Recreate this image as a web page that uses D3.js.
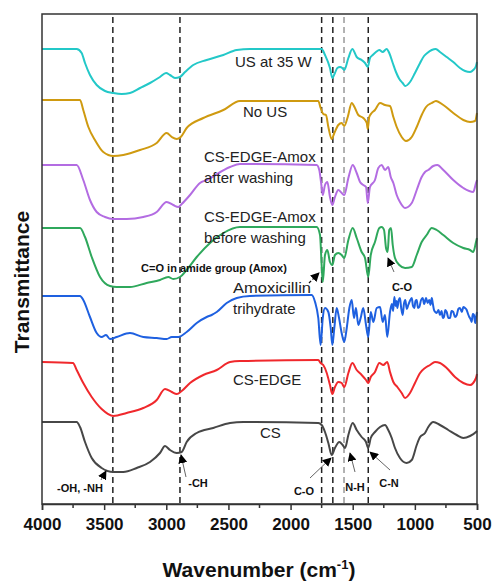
<!DOCTYPE html>
<html>
<head>
<meta charset="utf-8">
<script src="https://cdn.jsdelivr.net/npm/d3@7"></script>
<style>
  body { margin: 0; background: #fff; }
  text { font-family: "Liberation Sans", Arial, sans-serif; }
</style>
</head>
<body>
<div id="chart"></div>
<script>
// FTIR spectra, stacked (transmittance in a.u., offset for clarity)
var us35 = [[4000,455],[3721,455],[3681,451],[3654,441],[3614,429],[3560,419],[3493,413],[3426,411],[3359,410],[3292,411],[3211,416],[3131,421],[3051,427],[3002,431],[2970,429],[2930,426],[2890,427],[2849,432],[2783,439],[2675,444],[2541,449],[2433,454],[2327,455],[1750,455],[1723,449],[1683,436],[1664,426],[1643,431],[1624,436],[1602,437],[1584,436],[1568,434],[1535,446],[1503,455],[1468,447],[1428,444],[1401,441],[1379,437],[1361,446],[1339,449],[1313,452],[1286,454],[1259,452],[1227,455],[1206,451],[1178,441],[1152,432],[1125,425],[1098,421],[1077,418],[1039,422],[999,431],[958,441],[926,448],[900,451],[864,454],[832,455],[798,452],[744,447],[691,442],[637,436],[596,433],[556,432],[530,434],[508,438],[500,442]];

var noUS = [[4000,404],[3694,404],[3668,394],[3627,377],[3574,364],[3507,352],[3426,348],[3346,349],[3211,354],[3077,361],[2997,371],[2956,367],[2916,365],[2884,367],[2836,376],[2702,386],[2541,394],[2407,403],[1777,403],[1758,396],[1737,390],[1715,389],[1696,377],[1669,365],[1648,371],[1616,379],[1589,381],[1568,378],[1540,387],[1508,401],[1482,396],[1455,389],[1415,386],[1387,381],[1379,375],[1367,387],[1347,391],[1321,394],[1280,401],[1240,399],[1200,398],[1173,387],[1146,377],[1106,367],[1071,363],[1025,367],[985,377],[945,389],[910,397],[864,401],[830,403],[771,399],[691,391],[610,384],[556,382],[516,383],[500,391]];

var afterWash = [[4000,339],[3721,339],[3668,324],[3614,304],[3560,292],[3493,287],[3426,285],[3319,285],[3185,287],[3077,292],[2997,302],[2944,299],[2903,297],[2876,300],[2809,309],[2729,321],[2675,324],[2487,337],[2407,340],[1790,339],[1769,334],[1755,322],[1741,309],[1723,319],[1704,322],[1683,307],[1664,299],[1643,307],[1616,314],[1589,311],[1568,309],[1535,326],[1500,339],[1468,331],[1441,322],[1415,319],[1393,317],[1379,301],[1361,317],[1321,324],[1294,336],[1267,339],[1240,334],[1214,337],[1194,327],[1173,321],[1146,309],[1120,302],[1079,296],[1025,301],[985,314],[945,327],[918,332],[892,334],[852,338],[819,339],[771,334],[691,324],[610,316],[530,312],[508,321],[500,324]];

var beforeWash = [[4000,276],[3694,276],[3654,267],[3600,247],[3533,227],[3453,218],[3399,217],[3292,217],[3158,221],[3051,224],[2984,227],[2944,225],[2890,227],[2836,234],[2755,247],[2648,261],[2541,271],[2407,277],[1790,277],[1763,269],[1750,239],[1741,222],[1723,249],[1704,254],[1683,242],[1664,239],[1643,249],[1616,251],[1589,249],[1568,246],[1535,264],[1500,276],[1468,266],[1428,252],[1401,246],[1375,227],[1355,249],[1321,262],[1286,276],[1267,277],[1248,274],[1232,256],[1219,252],[1206,274],[1192,276],[1178,259],[1160,246],[1125,239],[1079,236],[1025,237],[985,249],[945,262],[905,269],[864,276],[824,274],[771,269],[691,261],[610,256],[556,254],[530,252],[508,262],[500,266]];

var amox = [[4000,208],[3694,208],[3668,204],[3614,187],[3560,171],[3520,167],[3485,169],[3453,165],[3399,167],[3292,171],[3185,167],[3077,166],[2997,165],[2956,167],[2903,167],[2836,172],[2755,181],[2675,187],[2635,189],[2594,192],[2514,201],[2433,206],[2327,208],[1830,209],[1803,202],[1777,186],[1758,159],[1741,186],[1723,196],[1696,192],[1677,176],[1664,159],[1648,176],[1629,196],[1610,186],[1589,171],[1568,162],[1548,176],[1527,196],[1508,204],[1490,186],[1474,196],[1455,179],[1436,186],[1415,196],[1393,179],[1375,167],[1355,192],[1334,182],[1307,196],[1280,197],[1259,182],[1240,189],[1222,167],[1200,192],[1185,200],[1175,193],[1165,207],[1155,198],[1148,203],[1141,196],[1130,204],[1120,206],[1110,196],[1098,189],[1088,200],[1077,204],[1065,195],[1053,199],[1040,203],[1025,206],[1015,198],[1004,196],[995,203],[985,204],[975,196],[964,197],[950,204],[937,206],[925,200],[910,206],[897,201],[884,204],[874,199],[864,206],[855,200],[846,194],[835,192],[824,191],[810,194],[798,189],[785,193],[775,186],[766,187],[755,194],[744,192],[730,186],[717,186],[705,193],[691,192],[677,187],[663,189],[650,195],[637,196],[622,192],[610,197],[597,196],[583,194],[572,190],[562,187],[552,185],[543,182],[534,190],[524,189],[515,181],[508,186],[500,192]];

var csEdge = [[4000,142],[3751,141],[3721,134],[3668,121],[3600,107],[3520,95],[3426,88],[3319,91],[3185,96],[3077,104],[3010,115],[2956,112],[2916,110],[2876,113],[2809,121],[2702,129],[2594,134],[2487,142],[2407,143],[1777,144],[1758,141],[1737,139],[1709,131],[1683,119],[1664,110],[1643,117],[1616,122],[1589,121],[1568,117],[1535,131],[1503,141],[1468,134],[1428,129],[1393,124],[1375,121],[1355,127],[1321,132],[1286,141],[1254,139],[1222,142],[1200,132],[1173,122],[1141,117],[1106,111],[1079,106],[1039,111],[999,121],[958,131],[918,136],[878,139],[838,142],[798,141],[744,136],[677,127],[610,121],[556,119],[508,126],[500,130]];

var cs = [[4000,82],[3721,82],[3694,77],[3654,62],[3600,46],[3520,36],[3426,32],[3346,32],[3238,36],[3131,42],[3051,51],[3010,58],[2970,54],[2916,51],[2876,52],[2836,62],[2755,71],[2622,76],[2487,81],[2380,82],[1777,81],[1750,79],[1723,72],[1696,61],[1669,49],[1643,56],[1608,62],[1581,59],[1562,56],[1535,69],[1500,81],[1468,74],[1428,67],[1393,62],[1375,56],[1355,66],[1321,72],[1280,77],[1240,79],[1214,74],[1186,66],[1160,56],[1120,46],[1066,41],[1025,44],[985,59],[958,67],[918,71],[892,77],[852,82],[798,79],[731,74],[663,69],[610,66],[556,68],[508,72],[500,73]];

var seriesNames = ["US at 35 W", "No US", "CS-EDGE-Amox after washing", "CS-EDGE-Amox before washing", "Amoxicillin trihydrate", "CS-EDGE", "CS"];
var seriesData = [us35, noUS, afterWash, beforeWash, amox, csEdge, cs];
var colors = ["#23c8c8", "#cf9a10", "#b36ce2", "#2fa85c", "#1e60e0", "#f0282c", "#474747"];

var markerWn = [3430, 2890, 1750, 1660, 1570, 1375];
var xTicks = [4000, 3500, 3000, 2500, 2000, 1500, 1000, 500];

var width = 492, height = 582;
var plotL = 42, plotR = 477, plotT = 14, plotB = 504;

var svg = d3.select("#chart").append("svg")
    .attr("width", width)
    .attr("height", height)
    .style("background", "#fff");

var defs = svg.append("defs");
defs.append("marker")
    .attr("id", "head")
    .attr("viewBox", "0 0 10 10")
    .attr("refX", 9).attr("refY", 5)
    .attr("markerWidth", 9).attr("markerHeight", 9)
    .attr("markerUnits", "userSpaceOnUse")
    .attr("orient", "auto")
    .append("path")
    .attr("d", "M0,0 L10,5 L0,10 z")
    .attr("fill", "#000");

var x = d3.scaleLinear().domain([4000, 500]).range([plotL, plotR]);
var y = d3.scaleLinear().domain([0, 490]).range([plotB, plotT]);

// dashed marker lines
svg.selectAll(".marker")
    .data(markerWn)
    .enter()
    .append("line")
    .attr("x1", function(d) { return x(d); })
    .attr("x2", function(d) { return x(d); })
    .attr("y1", plotT + 3)
    .attr("y2", plotB)
    .attr("stroke", function(d) { return d == 1570 ? "#999" : "#222"; })
    .attr("stroke-width", 1.5)
    .attr("stroke-dasharray", "6,4");

var line = d3.line()
    .x(function(d) { return x(d[0]); })
    .y(function(d) { return y(d[1]); })
    .curve(d3.curveMonotoneX);

svg.selectAll(".spec")
    .data(seriesData)
    .enter()
    .append("path")
    .attr("d", line)
    .attr("fill", "none")
    .attr("stroke", function(d, i) { return colors[i]; })
    .attr("stroke-width", 2)
    .attr("stroke-linejoin", "round");

// frame
svg.append("rect")
    .attr("x", plotL).attr("y", plotT)
    .attr("width", plotR - plotL).attr("height", plotB - plotT)
    .attr("fill", "none")
    .attr("stroke", "#333")
    .attr("stroke-width", 1.5);

// x axis
var xAxis = d3.axisBottom(x)
    .tickValues(xTicks)
    .tickSize(6)
    .tickPadding(8)
    .tickFormat(d3.format("d"));

var gx = svg.append("g")
    .attr("transform", "translate(0," + plotB + ")")
    .call(xAxis);
gx.select(".domain").attr("stroke", "#333").attr("stroke-width", 1.5);
gx.selectAll(".tick line").attr("stroke", "#333").attr("stroke-width", 1.5);
gx.selectAll("text")
    .style("font-family", "'Liberation Sans', Arial, sans-serif")
    .style("font-size", "17px")
    .style("font-weight", "bold")
    .attr("fill", "#111");

var minor = d3.range(3750, 500, -500);
gx.selectAll(".minor")
    .data(minor)
    .enter()
    .append("line")
    .attr("x1", function(d) { return x(d); })
    .attr("x2", function(d) { return x(d); })
    .attr("y1", 0).attr("y2", 4)
    .attr("stroke", "#333")
    .attr("stroke-width", 1.5);

// axis titles
var xt = svg.append("text")
    .attr("x", 259).attr("y", 577)
    .attr("text-anchor", "middle")
    .style("font-size", "21px")
    .style("font-weight", "bold")
    .attr("fill", "#111")
    .text("Wavenumber (cm");
xt.append("tspan").attr("dy", -8).style("font-size", "13px").text("-1");
xt.append("tspan").attr("dy", 8).text(")");

svg.append("text")
    .attr("transform", "translate(29,282) rotate(-90)")
    .attr("text-anchor", "middle")
    .style("font-size", "21px")
    .style("font-weight", "bold")
    .attr("fill", "#111")
    .text("Transmittance");

// curve labels
var labels = [
    {t: ["US at 35 W"], x: 235, y: 67},
    {t: ["No US"], x: 243, y: 117},
    {t: ["CS-EDGE-Amox", "after washing"], x: 204, y: 162},
    {t: ["CS-EDGE-Amox", "before washing"], x: 204, y: 222},
    {t: ["Amoxicillin", "trihydrate"], x: 233, y: 293, w: 78},
    {t: ["CS-EDGE"], x: 233, y: 385},
    {t: ["CS"], x: 260, y: 438}
];
labels.forEach(function(l) {
    var tx = svg.append("text")
        .attr("x", l.x).attr("y", l.y)
        .style("font-size", "15px")
        .attr("fill", "#222");
    l.t.forEach(function(s, i) {
        var sp = tx.append("tspan").attr("x", l.x).attr("dy", i == 0 ? 0 : 21).text(s);
        if (l.w && i == 0) sp.attr("textLength", l.w).attr("lengthAdjust", "spacingAndGlyphs");
    });
});

// annotations
var notes = [
    {t: "-OH, -NH", x: 80, y: 492, a: [101, 480, 106, 471]},
    {t: "-CH", x: 198, y: 487, a: [186, 477, 181, 455]},
    {t: "C-O", x: 304, y: 495, a: [310, 478, 331, 458]},
    {t: "N-H", x: 355, y: 491, a: [355, 472, 350, 453]},
    {t: "C-N", x: 389, y: 487, a: [390, 470, 370, 452]},
    {t: "C-O", x: 402, y: 291, a: [394, 272, 388, 258]},
    {t: "C=O in amide group (Amox)", x: 214, y: 272, a: null}
];
notes.forEach(function(n) {
    svg.append("text")
        .attr("x", n.x).attr("y", n.y)
        .attr("text-anchor", "middle")
        .style("font-size", "11px")
        .style("font-weight", "bold")
        .attr("fill", "#111")
        .text(n.t);
    if (n.a) {
        svg.append("line")
            .attr("x1", n.a[0]).attr("y1", n.a[1])
            .attr("x2", n.a[2]).attr("y2", n.a[3])
            .attr("stroke", "#666")
            .attr("stroke-width", 1)
            .attr("marker-end", "url(#head)");
    }
});

// dashed arrow to the C=O band
svg.append("line")
    .attr("x1", 309).attr("y1", 283)
    .attr("x2", 319).attr("y2", 273)
    .attr("stroke", "#111")
    .attr("stroke-width", 1.3)
    .attr("stroke-dasharray", "3,2")
    .attr("marker-end", "url(#head)");
</script>
</body>
</html>
